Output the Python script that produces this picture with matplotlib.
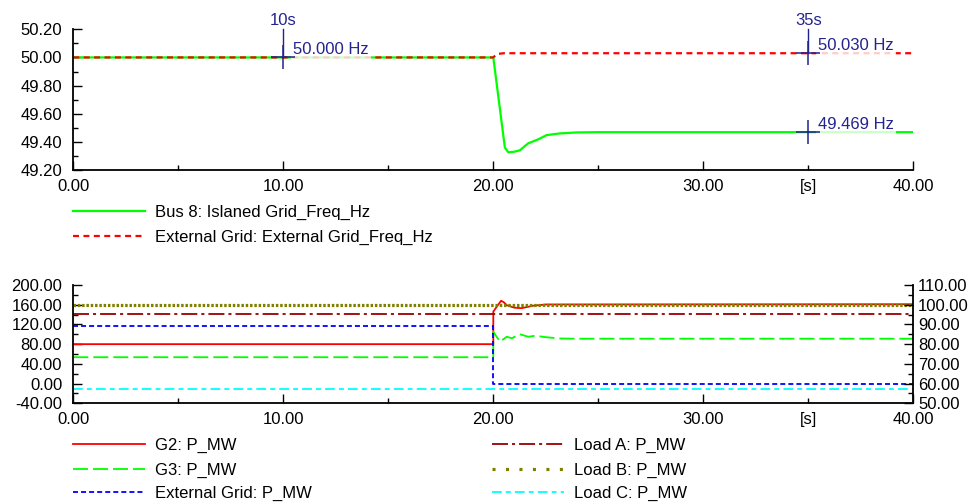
"""Frecuencia y potencias durante el paso a isla (t = 20 s)."""
import numpy as np
import matplotlib
matplotlib.use("Agg")
import matplotlib.pyplot as plt
from matplotlib.lines import Line2D
from matplotlib.ticker import MultipleLocator, FuncFormatter

plt.rcParams["font.family"] = ["Liberation Sans", "DejaVu Sans"]
plt.rcParams["font.size"] = 12
plt.rcParams["lines.scale_dashes"] = False

# --- datos ---
t_bus8 = [0, 20.0, 20.55, 20.71, 21.0, 21.27, 21.5, 21.67, 22.14, 22.54, 23.17, 23.97, 25.0, 40]
f_bus8 = [50.0, 50.0, 49.36, 49.326, 49.33, 49.34, 49.37, 49.39, 49.418, 49.448, 49.46, 49.467, 49.469, 49.469]
t_ext_f = [0, 20.0, 20.16, 20.5, 40]
f_ext = [50.0, 50.0, 50.024, 50.03, 50.03]

t_g2 = [0, 20.0, 20.0, 20.15, 20.37, 20.5, 20.64, 21.0, 21.35, 21.9, 22.5, 40]
p_g2 = [80, 80, 146, 155, 168, 165, 159, 154, 153, 158, 160.5, 161]
t_g3 = [0, 20.0, 20.0, 20.32, 20.64, 20.88, 21.27, 21.67, 21.98, 22.54, 23.17, 24.0, 40]
p_g3 = [53.5, 53.5, 105, 85, 95, 92, 100, 95, 97, 94, 91.5, 91, 91]
t_ext = [0, 20.0, 20.0, 40]
p_ext = [117, 117, 0, 0]
t_load = [0, 40]
p_load_a = [142, 142]
p_load_b = [159, 159]
p_load_c = [-10, -10]

cursor_t = [10, 35, 35]
cursor_f = [50.000, 50.030, 49.469]
cursor_head = ["10s", "35s", None]

W, H = 972, 504
NAVY = "#23238e"

fig = plt.figure(figsize=(W / 100, H / 100), dpi=100)


def px_axes(left, top, right, bottom):
    return fig.add_axes([left / W, 1 - bottom / H, (right - left) / W, (bottom - top) / H])


def style_axis(ax, axis, major, minor, pad):
    a = ax.xaxis if axis == "x" else ax.yaxis
    a.set_major_locator(MultipleLocator(major))
    a.set_minor_locator(MultipleLocator(minor))
    a.set_major_formatter(FuncFormatter(lambda v, p: f"{v:.2f}"))
    ax.tick_params(axis=axis, which="both", direction="in", pad=pad, labelsize=12)
    ax.tick_params(axis=axis, which="major", length=6.5, width=1)
    ax.tick_params(axis=axis, which="minor", length=3.5, width=1)


def style_time(ax):
    ax.set_xlim(0, 40)
    style_axis(ax, "x", 10, 5, 6.5)
    ax.xaxis.set_minor_formatter(
        FuncFormatter(lambda v, p: "[s]" if abs(v - 35) < 1e-6 else ""))
    for s in ("top", "right"):
        ax.spines[s].set_visible(False)
    for s in ("left", "bottom"):
        ax.spines[s].set_linewidth(1.3)


# --- grafico de frecuencia ---
ax1 = px_axes(73.3, 29.3, 913.3, 170)
ax1.plot(t_bus8, f_bus8, color="#00ff00", lw=1.6)
ax1.plot(t_ext_f, f_ext, color="#ff0000", lw=1.6, ls=(0, (4.3, 3.2)))
ax1.set_ylim(49.2, 50.2)
style_time(ax1)
style_axis(ax1, "y", 0.2, 0.1, 8)

for t, f, head in zip(cursor_t, cursor_f, cursor_head):
    ax1.plot([t], [f], marker="+", markersize=17, mew=1.1, color=NAVY, zorder=6)
    if head:
        ax1.plot([t, t], [f, 50.2], color=NAVY, lw=1.0, zorder=6, clip_on=False)
        ax1.annotate(head, xy=(t, 1), xycoords=("data", "axes fraction"),
                     xytext=(0, 3), textcoords="offset points",
                     ha="center", va="baseline", color=NAVY)
    ax1.annotate(f"{f:.3f} Hz", xy=(t, f), xytext=(7, 2.6), textcoords="offset points",
                 ha="left", va="baseline", color=NAVY, zorder=5,
                 bbox=dict(boxstyle="square,pad=0.12", fc="white", ec="none", alpha=0.8))

# --- grafico de potencias ---
series = [
    ("G2: P_MW", t_g2, p_g2, "#ff0000", "-", 1.3),
    ("G3: P_MW", t_g3, p_g3, "#00ff00", (0, (10.8, 3.6)), 1.3),
    ("External Grid: P_MW", t_ext, p_ext, "#0000ff", (0, (3.6, 2.2)), 1.3),
    ("Load A: P_MW", t_load, p_load_a, "#990000", (0, (11.5, 2.9, 2.2, 2.9)), 1.3),
    ("Load B: P_MW", t_load, p_load_b, "#808000", (0, (1.8, 1.3)), 2.3),
    ("Load C: P_MW", t_load, p_load_c, "#00ffff", (0, (7, 3, 3.5, 3)), 1.3),
]

ax2 = px_axes(73.3, 285, 913.3, 403.3)
for label, t, p, c, ls, lw in series:
    ax2.plot(t, p, color=c, ls=ls, lw=lw)
ax2.set_ylim(-40, 200)
style_time(ax2)
style_axis(ax2, "y", 40, 20, 8)

ax2r = ax2.twinx()
ax2r.set_ylim(50, 110)
style_axis(ax2r, "y", 10, 5, 3.5)
for s in ("top", "left", "bottom"):
    ax2r.spines[s].set_visible(False)
ax2r.spines["right"].set_linewidth(1.3)

# --- leyendas ---
def legend_entry(x, y, label, color, ls, lw):
    fig.add_artist(Line2D([x / W, (x + 72) / W], [1 - y / H] * 2, color=color,
                          ls=ls, lw=lw, transform=fig.transFigure))
    fig.text((x + 82) / W, 1 - (y + 1) / H, label, ha="left", va="center", fontsize=12)


legend_entry(73, 211, "Bus 8: Islaned Grid_Freq_Hz", "#00ff00", "-", 1.6)
legend_entry(73, 236, "External Grid: External Grid_Freq_Hz", "#ff0000", (0, (4.3, 3.2)), 1.6)

rows = [444, 469, 492]
for i, (label, t, p, c, ls, lw) in enumerate(series):
    col, row = divmod(i, 3)
    if label.startswith("Load B"):
        ls = (0, (2.2, 7.5))
    legend_entry(73 + col * 419, rows[row], label, c, ls, lw)

fig.savefig("out.png", dpi=100)
